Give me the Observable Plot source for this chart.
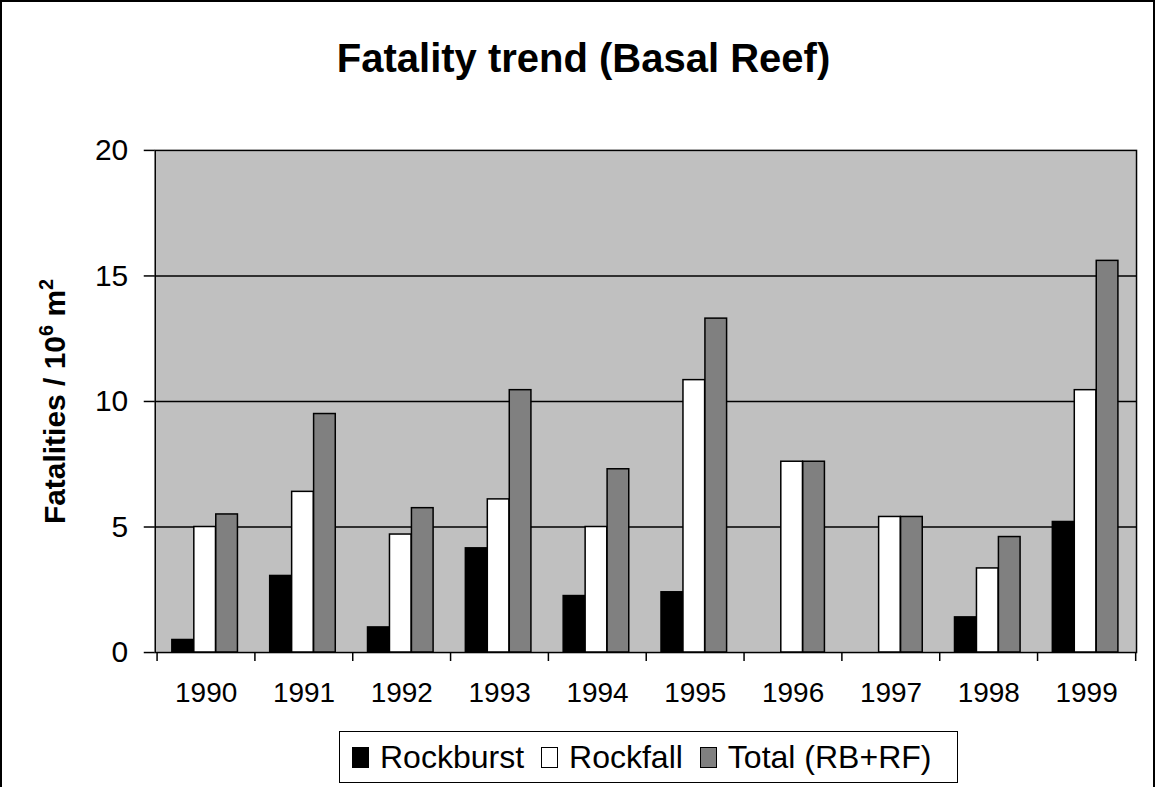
<!DOCTYPE html>
<html>
<head>
<meta charset="utf-8">
<script src="https://cdn.jsdelivr.net/npm/d3@7"></script>
<script src="https://cdn.jsdelivr.net/npm/@observablehq/plot@0.6"></script>
<style>
  html, body { margin: 0; padding: 0; background: #fff; }
  #page {
    position: relative; width: 1155px; height: 787px; box-sizing: border-box;
    border-top: 2px solid #000; border-left: 2px solid #000; border-right: 2px solid #000;
    font-family: "Liberation Sans", Arial, sans-serif; overflow: hidden;
  }
  #title {
    position: absolute; left: 4px; top: 36px; width: 1155px; height: 40px;
    text-align: center; font-weight: bold; font-size: 40px; line-height: 40px; white-space: nowrap;
  }
  #chart { position: absolute; left: -2px; top: 96px; }
  #legend {
    position: absolute; left: 337px; top: 729px; width: 619px; height: 52px;
    box-sizing: border-box; border: 1.5px solid #000; background: #fff;
    display: flex; align-items: center; justify-content: flex-start; gap: 17px;
    padding-left: 12px; font-size: 32px; white-space: nowrap;
  }
  .item { display: flex; align-items: center; gap: 11px; }
  .sw { display: inline-block; width: 17px; height: 21px; box-sizing: border-box; border: 1.5px solid #000; }
</style>
</head>
<body>
<div id="page">
  <div id="title">Fatality trend (Basal Reef)</div>
  <div id="chart"></div>
  <div id="legend"></div>
</div>
<script>
const years = ["1990","1991","1992","1993","1994","1995","1996","1997","1998","1999"];
const rockburst = [0.5, 3.05, 1.0, 4.15, 2.25, 2.4, 0, 0, 1.4, 5.2];
const rockfall  = [5.0, 6.4, 4.7, 6.1, 5.0, 10.85, 7.6, 5.4, 3.35, 10.45];
const total     = [5.5, 9.5, 5.75, 10.45, 7.3, 13.3, 7.6, 5.4, 4.6, 15.6];
const seriesNames = ["Rockburst", "Rockfall", "Total (RB+RF)"];
const seriesColors = ["#000000", "#ffffff", "#808080"];
const yTicks = [0, 5, 10, 15, 20];
const gridValues = [5, 10, 15];

const W = 1155, H = 622;
const mL = 155, mR = 17, mT = 52, mB = 67;
const step = (W - mL - mR) / years.length;
const bw = 22;
const off = (step - 3 * bw) / 2 - 1;

const data = years.map((y, i) => ({year: y, rb: rockburst[i], rf: rockfall[i], tot: total[i]}));
const cols = ["rb", "rf", "tot"];

const barMarks = cols.map((c, k) => Plot.barY(data, {
  x: "year", y: c,
  fill: seriesColors[k], stroke: "#000", strokeWidth: 1.5,
  insetLeft: off + k * bw, insetRight: step - off - (k + 1) * bw
}));

const chart = Plot.plot({
  width: W, height: H,
  marginLeft: mL, marginRight: mR, marginTop: mT, marginBottom: mB,
  style: {fontFamily: "'Liberation Sans', Arial, sans-serif", background: "transparent", overflow: "visible"},
  x: {domain: years, padding: 0, label: null},
  y: {domain: [0, 20], label: null},
  marks: [
    Plot.frame({fill: "#c0c0c0"}),
    Plot.ruleY(gridValues, {stroke: "#000", strokeWidth: 1.5}),
    ...barMarks,
    Plot.frame({stroke: "#000", strokeWidth: 1.5}),
    Plot.axisY(yTicks, {tickSize: 11, tickPadding: 16, fontSize: 30, stroke: "#000", strokeWidth: 1.5, fill: "#000", label: null}),
    Plot.axisX({tickSize: 0, tickPadding: 30, fontSize: 28, fill: "#000", label: null, className: "xax"}),
    Plot.ruleX(years, {x: d => d, y1: 0, y2: 0, dx: -step / 2, insetBottom: -9, stroke: "#000", strokeWidth: 1.5}),
    Plot.ruleX([years[years.length - 1]], {x: d => d, y1: 0, y2: 0, dx: step / 2, insetBottom: -9, stroke: "#000", strokeWidth: 1.5}),
    Plot.text(["Fatalities / 10"], {text: d => d, frameAnchor: "left", textAnchor: "middle", rotate: -90, dx: -100, fontSize: 30, fontWeight: "bold", fill: "#000", className: "ylab"})
  ]
});
document.getElementById("chart").appendChild(chart);

// narrow font for the category labels, like the reference
chart.querySelectorAll(".xax text").forEach(t => t.setAttribute("font-family", "'Liberation Sans Narrow', 'Liberation Sans', Arial, sans-serif"));

// y label with superscripts: Fatalities / 10⁶ m²
const t = chart.querySelector(".ylab text");
if (t) {
  t.textContent = "";
  t.setAttribute("text-anchor", "middle");
  const parts = [["Fatalities / 10", 0, 30], ["6", -12, 20], [" m", 12, 30], ["2", -12, 20]];
  for (const [s, dy, fs] of parts) {
    const ts = document.createElementNS("http://www.w3.org/2000/svg", "tspan");
    ts.textContent = s;
    ts.setAttribute("dy", dy);
    ts.setAttribute("font-size", fs);
    t.appendChild(ts);
  }
}

const leg = document.getElementById("legend");
seriesNames.forEach((n, k) => {
  const it = document.createElement("span");
  it.className = "item";
  const sw = document.createElement("span");
  sw.className = "sw";
  sw.style.background = seriesColors[k];
  it.appendChild(sw);
  it.appendChild(document.createTextNode(n));
  leg.appendChild(it);
});
</script>
</body>
</html>
